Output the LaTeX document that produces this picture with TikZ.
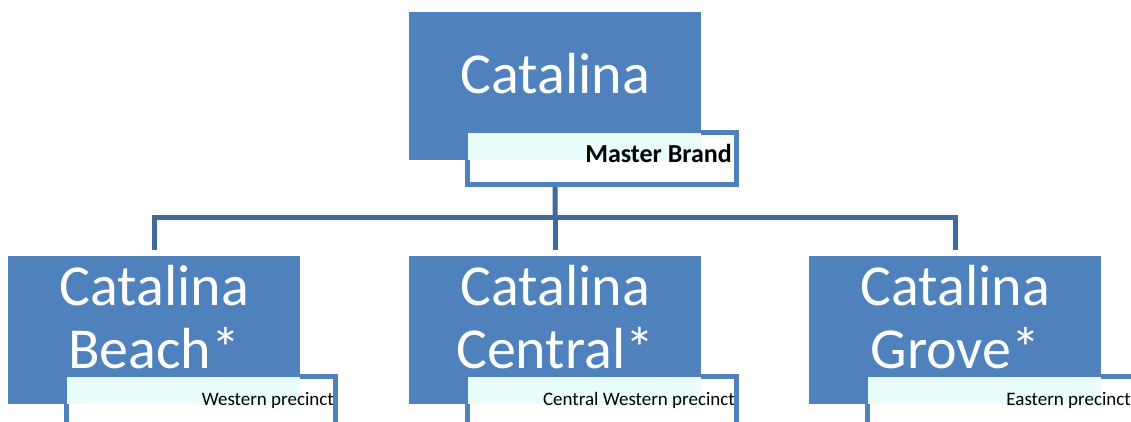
\documentclass[tikz,border=0pt]{standalone}
\usepackage{fontspec}
\setmainfont{Carlito}
\usetikzlibrary{positioning,calc}
\definecolor{brandblue}{HTML}{4F81BD}
\definecolor{linkblue}{HTML}{3E6A9E}
\definecolor{tagtint}{HTML}{E9FDFD}

\tikzset{
  block/.style={rectangle,fill=brandblue,minimum width=292pt,minimum height=148pt,inner sep=0pt,anchor=north west},
  tagbox/.style={rectangle,draw=brandblue,line width=5pt,fill=white,minimum width=269pt,minimum height=52pt,inner sep=0pt,anchor=north west},
  blocktext/.style={text=white,font=\fontsize{58}{63}\selectfont,align=center,inner sep=0pt,anchor=base},
  tagtext/.style={font=\fontsize{19}{22}\selectfont,inner sep=0pt,anchor=base east},
  linker/.style={draw=linkblue,line width=5pt}
}

\begin{document}
\begin{tikzpicture}[x=1pt,y=-1pt]
        \useasboundingbox (0,0) rectangle (1131,421);

        %%% BLOCKS %%%
        \node[block] (master) at (409,12) {};
        \node[block] (beach) at (8,256) {};
        \node[block] (central) at (409,256) {};
        \node[block] (grove) at (809,256) {};

        %%% CONNECTORS %%%
        \coordinate (hub) at (555,217);
        \draw[linker] (master.south) -- (hub);
        \foreach \n in {beach,central,grove}
            \draw[linker,shorten >=6pt] (hub) -| (\n.north);

        %%% TAGS %%%
        \foreach \n in {master,beach,central,grove}{
            \node[tagbox] (\n tag) at ([xshift=56pt,yshift=30pt]\n.south west) {};
            \fill[tagtint] ([xshift=2.5pt,yshift=-2.5pt]\n tag.north west) rectangle (\n.south east);
        }

        %%% TEXTS %%%
        \node[blocktext] (mastertext) at ([yshift=-81pt]master.north) {Catalina};
        \node[blocktext] (beachtext) at ([yshift=-112pt]beach.north) {Catalina\\Beach*};
        \node[blocktext] (centraltext) at ([yshift=-112pt]central.north) {Catalina\\Central*};
        \node[blocktext] (grovetext) at ([yshift=-112pt]grove.north) {Catalina\\Grove*};

        \node[tagtext,font=\fontsize{26}{30}\selectfont\bfseries] (masternote) at ([xshift=-7pt,yshift=-32pt]mastertag.north east) {Master Brand};
        \node[tagtext] (beachnote) at ([xshift=-4pt,yshift=-31pt]beachtag.north east) {Western precinct};
        \node[tagtext] (centralnote) at ([xshift=-4pt,yshift=-31pt]centraltag.north east) {Central Western precinct};
        \node[tagtext] (grovenote) at ([xshift=-8pt,yshift=-31pt]grovetag.north east) {Eastern precinct};
\end{tikzpicture}
\end{document}
